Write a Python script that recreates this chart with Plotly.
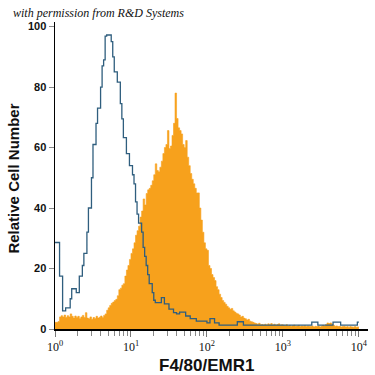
import plotly.graph_objects as go

# ---- data ----
decades = 4
channels_per_decade = 50

blue_counts = [
    28.6, 28.6, 28.6, 17.5, 17.5, 6, 6, 7, 7, 7,
    10, 13.3, 13.3, 13.3, 12, 12, 17.5, 17.5, 21, 25,
    25, 32, 40, 40, 50, 61, 61, 68, 73, 73,
    80, 87, 89, 96.8, 97.2, 97.2, 97.2, 95, 90, 85,
    85, 81.6, 81.6, 74.5, 69.5, 63.3, 63.3, 58, 58, 54,
    54, 51, 48, 42, 38, 35, 35, 32, 27, 24,
    21, 18, 15, 15, 12, 9.5, 8.7, 8.7, 8.7, 8.7,
    10.4, 10.4, 8.3, 8.3, 8.3, 6.6, 6.6, 6.6, 5.4, 5.4,
    5, 5, 5.6, 5.6, 5.6, 5.6, 4.3, 4.3, 4.3, 3.4,
    3.4, 3.4, 3.4, 2.6, 2.6, 2.6, 2.6, 2.6, 2.6, 2.6,
    2, 2, 3.4, 3.4, 3.4, 2, 2, 2, 1.3, 1.3,
    1.3, 1.3, 1.3, 1.3, 1.3, 1.3, 1.3, 1.3, 1.3, 1.3,
    2.4, 2.4, 2.4, 2.4, 1.3, 1.3, 1.3, 1.3, 1.3, 1.3,
    1.3, 1.3, 1.3, 1.3, 1.3, 1.3, 1.3, 1.3, 1.3, 1.3,
    1.3, 1.3, 1.3, 1.3, 1.3, 1.3, 1.3, 1.3, 1.3, 1.3,
    1.3, 1.3, 1.3, 1.3, 1.3, 1.3, 1.3, 1.3, 1.3, 1.3,
    1.3, 1.3, 1.3, 1.3, 1.3, 1.3, 1.3, 1.3, 1.3, 2.3,
    2.3, 2.3, 2.3, 1.3, 1.3, 1.3, 1.3, 1.3, 1.3, 1.3,
    1.3, 1.3, 1.3, 2.3, 2.3, 2.3, 2.3, 2.3, 1.3, 1.3,
    1.3, 1.3, 1.3, 1.3, 1.3, 1.3, 1.3, 1.3, 1.3, 2.3,
]

orange_counts = [
    2.2, 2.2, 2.5, 4.0, 4.4, 4.0, 4.6, 3.8, 4.4, 4.0,
    5.0, 4.2, 3.6, 4.3, 3.8, 4.2, 3.5, 4.0, 4.5, 3.8,
    5.4, 3.6, 3.4, 4.0, 3.2, 3.8, 3.5, 4.2, 3.6, 3.9,
    4.3, 3.8, 4.5, 5.0, 6.2, 7.0, 7.8, 8.5, 8.9, 9.4,
    9.8, 11.0, 13.0, 13.5, 14.5, 15.0, 17.5, 19.5, 21.0, 23.0,
    25.0, 26.5, 28.5, 31.0, 32.5, 34.0, 37.0, 39.0, 43.0, 41.0,
    44.8, 46.0, 46.5, 47.5, 49.0, 51.0, 54.6, 52.4, 52.0, 53.5,
    55.5, 58.0, 60.0, 61.0, 65.6, 59.7, 60.5, 64.0, 68.0, 78.0,
    69.6, 66.5, 65.6, 64.5, 61.0, 60.0, 62.3, 56.8, 54.0, 51.4,
    49.5, 48.0, 46.5, 45.0, 45.0, 40.0, 36.0, 32.0, 28.5, 26.5,
    26.0, 21.0, 20.0, 18.0, 17.0, 16.0, 14.0, 13.0, 11.5, 10.4,
    9.4, 8.8, 8.2, 7.5, 7.0, 6.5, 6.8, 6.0, 5.6, 5.2,
    5.0, 4.6, 4.0, 4.2, 3.6, 3.4, 3.0, 3.2, 2.6, 2.4,
    2.2, 2.0, 1.8, 1.6, 1.9, 1.4, 1.5, 1.3, 1.6, 1.2,
    1.7, 1.4, 1.8, 1.3, 1.6, 1.2, 1.5, 1.7, 1.2, 1.4,
    1.3, 1.1, 1.4, 1.0, 1.2, 0.9, 1.1, 1.3, 0.9, 1.0,
    1.2, 0.8, 1.0, 0.9, 1.1, 0.8, 1.0, 0.9, 0.8, 1.0,
    0.7, 0.9, 0.8, 1.0, 0.7, 0.9, 1.2, 1.0, 1.5, 2.0,
    1.8, 2.0, 1.6, 1.2, 0.9, 1.0, 0.8, 0.9, 0.7, 0.8,
    0.9, 0.7, 0.8, 0.6, 0.8, 0.7, 0.6, 0.8, 0.6, 0.7,
]

y_tick_values = [0, 20, 40, 60, 80, 100]
x_tick_values = [1, 10, 100, 1000, 10000]
x_tick_labels = ["10<sup>0</sup>", "10<sup>1</sup>", "10<sup>2</sup>",
                 "10<sup>3</sup>", "10<sup>4</sup>"]

n_ch = decades * channels_per_decade
edges = [10 ** (i / channels_per_decade) for i in range(n_ch + 1)]

minor_vals = [m * 10 ** d for d in range(decades) for m in range(2, 10)]

fig = go.Figure()
fig.add_trace(go.Scatter(
    x=edges, y=orange_counts + [orange_counts[-1]],
    mode="lines", line=dict(shape="hv", width=0.6, color="#F7A11C"),
    fill="tozeroy", fillcolor="#F7A11C", hoverinfo="skip"))
fig.add_trace(go.Scatter(
    x=edges, y=blue_counts + [blue_counts[-1]],
    mode="lines", line=dict(shape="hv", width=1.3, color="#2F5E7E"),
    hoverinfo="skip"))

fig.update_layout(
    width=375, height=375,
    margin=dict(l=55, r=7, t=22, b=46),
    paper_bgcolor="white", plot_bgcolor="white",
    showlegend=False,
    xaxis=dict(
        type="log", range=[0, 4.12],
        tickvals=x_tick_values, ticktext=x_tick_labels,
        ticks="outside", ticklen=6, tickcolor="#777", tickwidth=1,
        minor=dict(tickvals=minor_vals, ticks="outside", ticklen=5,
                   tickcolor="#888", tickwidth=1),
        showline=True, linecolor="black", linewidth=1.5,
        showgrid=False, zeroline=False,
        tickfont=dict(family="Liberation Serif", size=12, color="#111"),
    ),
    yaxis=dict(
        range=[0, 101.5],
        tickvals=y_tick_values,
        ticks="outside", ticklen=5, tickcolor="#888", tickwidth=1,
        showline=True, linecolor="black", linewidth=1.5,
        showgrid=False, zeroline=False,
        tickfont=dict(family="Liberation Sans", size=11, color="#111",
                      weight="bold"),
    ),
)

fig.add_annotation(
    text="with permission from R&amp;D Systems",
    xref="paper", yref="paper", x=-0.142, y=1.03,
    xanchor="left", yanchor="middle", showarrow=False,
    font=dict(family="Liberation Serif", size=12, color="#111", style="italic"))
fig.add_annotation(
    text="Relative Cell Number",
    xref="paper", yref="paper", x=-0.131, y=0.49,
    xanchor="center", yanchor="middle", textangle=-90, showarrow=False,
    font=dict(family="Liberation Sans", size=15, color="#111", weight="bold"))
fig.add_annotation(
    text="F4/80/EMR1",
    xref="paper", yref="paper", x=0.485, y=-0.118,
    xanchor="center", yanchor="middle", showarrow=False,
    font=dict(family="Liberation Sans", size=17, color="#111", weight="bold"))

fig.write_html(
    "out.html",
    config={"displayModeBar": False, "staticPlot": True},
    post_script="document.body.style.margin='0';document.body.style.overflow='hidden';")
